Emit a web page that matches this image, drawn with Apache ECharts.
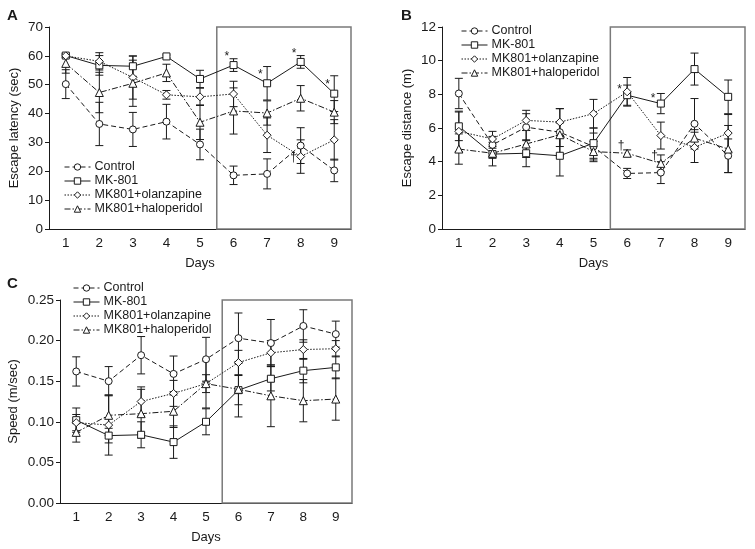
<!DOCTYPE html>
<html>
<head>
<meta charset="utf-8">
<script src="https://cdn.jsdelivr.net/npm/echarts@6/dist/echarts.min.js"></script>
<style>
  html, body { margin: 0; padding: 0; background: #fff; }
  #chart { width: 755px; height: 549px; }
</style>
</head>
<body>
<div id="chart"></div>
<script>
// x 轴天数
const days = ['1', '2', '3', '4', '5', '6', '7', '8', '9'];
const groupNames = ['Control', 'MK-801', 'MK801+olanzapine', 'MK801+haloperidol'];

// A: escape latency (sec)
const latControl = [50.2, 36.4, 34.5, 37.2, 29.3, 18.6, 19.1, 28.9, 20.3];
const latControlErr = [5.0, 7.5, 5.9, 6.0, 5.3, 3.2, 5.2, 6.2, 3.9];
const latMK = [60.1, 56.7, 56.4, 59.8, 52.0, 56.8, 50.5, 57.9, 46.9];
const latMKErr = [0.5, 3.4, 3.5, 0.5, 3.0, 2.2, 5.8, 2.2, 6.2];
const latOla = [60.0, 58.1, 52.5, 46.5, 45.8, 46.8, 32.5, 25.1, 30.9];
const latOlaErr = [0.5, 3.0, 7.5, 1.5, 3.0, 4.4, 6.0, 5.8, 7.0];
const latHal = [57.4, 47.3, 50.5, 54.1, 37.0, 40.9, 40.2, 45.3, 40.5];
const latHalErr = [3.4, 7.0, 8.0, 3.0, 6.0, 8.0, 4.2, 4.4, 4.0];
const latMKMarks = ['', '', '', '', '', '*', '*', '*', '*'];
const latOlaMarks = ['', '', '', '', '', '', '', '†', ''];

// B: escape distance (m)
const distControl = [8.05, 5.0, 6.05, 5.75, 4.9, 3.3, 3.35, 6.25, 4.35];
const distControlErr = [0.9, 0.5, 0.8, 1.4, 0.8, 0.3, 0.65, 1.5, 1.0];
const distMK = [6.1, 4.45, 4.5, 4.35, 5.1, 7.95, 7.45, 9.5, 7.85];
const distMKErr = [0.85, 0.7, 0.8, 1.2, 0.9, 0.6, 0.6, 0.95, 1.0];
const distOla = [5.8, 5.35, 6.45, 6.35, 6.85, 8.15, 5.55, 4.85, 5.7];
const distOlaErr = [1.2, 0.45, 0.6, 0.8, 0.85, 0.85, 0.8, 0.9, 1.1];
const distHal = [4.75, 4.5, 5.05, 5.6, 4.6, 4.5, 3.9, 5.4, 4.75];
const distHalErr = [0.9, 0.3, 0.8, 0.7, 0.6, 0.2, 0.5, 0.5, 1.4];
const distMKMarks = ['', '', '', '', '', '*', '*', '', ''];
const distHalMarks = ['', '', '', '', '', '†', '†', '', ''];

// C: speed (m/sec)
const spdControl = [0.162, 0.150, 0.182, 0.159, 0.177, 0.203, 0.197, 0.218, 0.208];
const spdControlErr = [0.018, 0.018, 0.023, 0.022, 0.027, 0.031, 0.029, 0.020, 0.016];
const spdMK = [0.102, 0.083, 0.084, 0.075, 0.100, 0.139, 0.153, 0.163, 0.167];
const spdMKErr = [0.015, 0.009, 0.016, 0.020, 0.016, 0.018, 0.015, 0.015, 0.014];
const spdOla = [0.099, 0.096, 0.125, 0.135, 0.147, 0.173, 0.185, 0.189, 0.190];
const spdOlaErr = [0.010, 0.037, 0.018, 0.016, 0.011, 0.015, 0.015, 0.012, 0.010];
const spdHal = [0.087, 0.108, 0.110, 0.113, 0.147, 0.140, 0.132, 0.126, 0.128];
const spdHalErr = [0.012, 0.025, 0.030, 0.020, 0.030, 0.034, 0.038, 0.026, 0.026];

const ink = '#1a1a1a';
const fontFam = 'Liberation Sans, Arial, sans-serif';
const symbols = ['circle', 'rect', 'diamond', 'triangle'];
const dashes = [[5, 3], 'solid', [1.5, 1.5], [6, 2, 1.5, 2]];
const symSizes = [7, 7, 8, 8];

function renderErr (params, api) {
    let x = api.value(0);
    let lo = api.coord([x, api.value(1)]);
    let hi = api.coord([x, api.value(2)]);
    let w = 4;
    let style = { stroke: ink, lineWidth: 1 };
    return {
        type: 'group',
        children: [
            { type: 'line', shape: { x1: lo[0], y1: lo[1], x2: hi[0], y2: hi[1] }, style: style },
            { type: 'line', shape: { x1: lo[0] - w, y1: lo[1], x2: lo[0] + w, y2: lo[1] }, style: style },
            { type: 'line', shape: { x1: hi[0] - w, y1: hi[1], x2: hi[0] + w, y2: hi[1] }, style: style }
        ]
    };
}

// marks: 每组的 * / † 标记, offs: 标记相对点的位置
function panelSeries (gi, vals, errs, marks, offs) {
    let list = [];
    for (let k = 0; k < 4; k++) {
        list.push({
            name: groupNames[k] + '-err-' + gi,
            type: 'custom',
            xAxisIndex: gi,
            yAxisIndex: gi,
            renderItem: renderErr,
            encode: { x: 0, y: [1, 2] },
            z: 1,
            silent: true,
            data: vals[k].map(function (v, i) { return [i, v - errs[k][i], v + errs[k][i]]; })
        });
    }
    for (let k = 0; k < 4; k++) {
        let m = marks[k];
        list.push({
            name: groupNames[k],
            type: 'line',
            xAxisIndex: gi,
            yAxisIndex: gi,
            symbol: symbols[k],
            symbolSize: symSizes[k],
            z: 3,
            lineStyle: { color: ink, width: 1, type: dashes[k] },
            itemStyle: { color: '#fff', borderColor: ink, borderWidth: 1 },
            data: vals[k].map(function (v, i) {
                if (m && m[i]) {
                    return {
                        value: v,
                        label: {
                            show: true,
                            formatter: m[i],
                            position: m[i] === '*' ? offs.star : offs.dagger,
                            fontSize: 12,
                            color: ink,
                            fontFamily: fontFam
                        }
                    };
                }
                return v;
            })
        });
    }
    // 右侧方框 (day 6-9)
    list.push({
        name: 'box-' + gi,
        type: 'line',
        xAxisIndex: gi + 3,
        yAxisIndex: gi,
        data: [],
        silent: true,
        markArea: {
            silent: true,
            itemStyle: { color: 'rgba(0,0,0,0)', borderColor: '#7a7a7a', borderWidth: 1.5 },
            data: [[{ xAxis: 5 }, { xAxis: 9 }]]
        }
    });
    return list;
}

const grids = [
    { left: 49, top: 27, width: 302, height: 202 },
    { left: 442, top: 27, width: 303, height: 202 },
    { left: 60, top: 300, width: 292, height: 203 }
];

function catAxis (gi) {
    return {
        type: 'category',
        gridIndex: gi,
        data: days,
        boundaryGap: true,
        name: 'Days',
        nameLocation: 'middle',
        nameGap: 28,
        nameTextStyle: { color: ink, fontSize: 13, fontFamily: fontFam },
        axisLine: { lineStyle: { color: ink, width: 1 } },
        axisTick: { length: 4, lineStyle: { color: ink } },
        axisLabel: { color: ink, fontSize: 13.5, fontFamily: fontFam, margin: 7 }
    };
}

function boxAxis (gi) {
    return { type: 'value', gridIndex: gi, min: 0, max: 9, show: false };
}

function valAxis (gi, name, max, interval, digits, gap) {
    return {
        type: 'value',
        gridIndex: gi,
        min: 0,
        max: max,
        interval: interval,
        name: name,
        nameLocation: 'middle',
        nameGap: gap,
        nameTextStyle: { color: ink, fontSize: 13, fontFamily: fontFam },
        splitLine: { show: false },
        axisLine: { show: true, lineStyle: { color: ink, width: 1 } },
        axisTick: { show: true, length: 4, lineStyle: { color: ink } },
        axisLabel: {
            color: ink, fontSize: 13.5, fontFamily: fontFam, margin: 6,
            formatter: function (v) { return v.toFixed(digits); }
        }
    };
}

function legendAt (left, top) {
    return {
        data: groupNames,
        orient: 'vertical',
        left: left,
        top: top,
        itemWidth: 26,
        itemHeight: 8,
        itemGap: 0,
        selectedMode: false,
        lineStyle: { width: 1 },
        itemStyle: { borderWidth: 1 },
        textStyle: { color: ink, fontSize: 12.5, lineHeight: 14, fontFamily: fontFam, padding: [0, 0, 0, -1] }
    };
}

let chart = echarts.init(document.getElementById('chart'));
let option = {
    animation: false,
    backgroundColor: '#fff',
    title: [
        { text: 'A', left: 2, top: 3, textStyle: { fontSize: 15, fontWeight: 'bold', color: ink, fontFamily: fontFam } },
        { text: 'B', left: 396, top: 3, textStyle: { fontSize: 15, fontWeight: 'bold', color: ink, fontFamily: fontFam } },
        { text: 'C', left: 2, top: 271, textStyle: { fontSize: 15, fontWeight: 'bold', color: ink, fontFamily: fontFam } }
    ],
    legend: [legendAt(59, 155), legendAt(456, 19), legendAt(68, 276)],
    grid: grids,
    xAxis: [catAxis(0), catAxis(1), catAxis(2), boxAxis(0), boxAxis(1), boxAxis(2)],
    yAxis: [
        valAxis(0, 'Escape latency (sec)', 70, 10, 0, 28),
        valAxis(1, 'Escape distance (m)', 12, 2, 0, 28),
        valAxis(2, 'Speed (m/sec)', 0.25, 0.05, 2, 40)
    ],
    series: [].concat(
        panelSeries(0, [latControl, latMK, latOla, latHal], [latControlErr, latMKErr, latOlaErr, latHalErr],
            [null, latMKMarks, latOlaMarks, null], { star: [-5, -10.5], dagger: [-6, 0] }),
        panelSeries(1, [distControl, distMK, distOla, distHal], [distControlErr, distMKErr, distOlaErr, distHalErr],
            [null, distMKMarks, null, distHalMarks], { star: [-6, -7], dagger: [-5, -9] }),
        panelSeries(2, [spdControl, spdMK, spdOla, spdHal], [spdControlErr, spdMKErr, spdOlaErr, spdHalErr],
            [null, null, null, null], { star: [0, 0], dagger: [0, 0] })
    )
};
chart.setOption(option);
</script>
</body>
</html>
